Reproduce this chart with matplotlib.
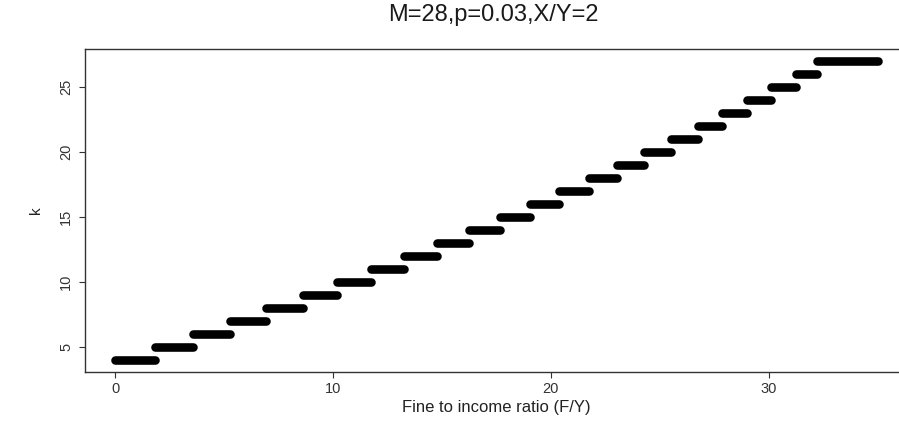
import matplotlib
matplotlib.use("Agg")
import matplotlib.pyplot as plt

plt.rcParams['font.family'] = ['Liberation Sans', 'DejaVu Sans']

# Step function: optimal k for each fine-to-income ratio
k_values = [4, 5, 6, 7, 8, 9, 10, 11, 12, 13, 14, 15, 16, 17, 18, 19, 20,
            21, 22, 23, 24, 25, 26, 27]
step_starts = [0.0, 1.81, 3.55, 5.27, 6.92, 8.59, 10.17, 11.73, 13.26, 14.75,
               16.24, 17.66, 19.06, 20.39, 21.74, 23.02, 24.28, 25.52, 26.75,
               27.87, 29.02, 30.12, 31.24, 32.23]
fy_max = 35.0

x_ticks = [0, 10, 20, 30]
y_ticks = [5, 10, 15, 20, 25]

W, H = 899, 421
fig = plt.figure(figsize=(W / 100, H / 100), dpi=100)
left, right, top, bottom = 85, 908, 49, 372
ax = fig.add_axes([left / W, 1 - bottom / H, (right - left) / W, (bottom - top) / H])

step_ends = step_starts[1:] + [fy_max]
for k, x0, x1 in zip(k_values, step_starts, step_ends):
    ax.plot([x0, x1], [k, k], color='black', lw=6.2, solid_capstyle='round')

span_x = fy_max - 0.0
ax.set_xlim(0.0 - 0.04 * span_x, fy_max + 0.04 * span_x)
span_y = max(k_values) - min(k_values)
ax.set_ylim(min(k_values) - 0.04 * span_y, max(k_values) + 0.04 * span_y)

ax.set_xticks(x_ticks)
ax.set_yticks(y_ticks)
ax.set_xticklabels([str(t) for t in x_ticks], fontsize=10.5, color='#333333')
ax.set_yticklabels([str(t) for t in y_ticks], fontsize=10.5, color='#333333',
                   rotation=90, va='center')
ax.tick_params(axis='both', direction='out', length=4.5, width=0.8, color='#333333')
ax.tick_params(axis='x', pad=2.5)
ax.tick_params(axis='y', pad=4)

for s in ax.spines.values():
    s.set_color('#333333')
    s.set_linewidth(1.0)

ax.set_xlabel('Fine to income ratio (F/Y)', fontsize=12, color='#222222', labelpad=3)
ax.set_ylabel('k', fontsize=11, color='#222222', labelpad=12)
fig.text(493 / W, 1 - 15 / H, 'M=28,p=0.03,X/Y=2',
         ha='center', va='center', fontsize=17, color='#1a1a1a')

fig.savefig('out.png', dpi=100)
